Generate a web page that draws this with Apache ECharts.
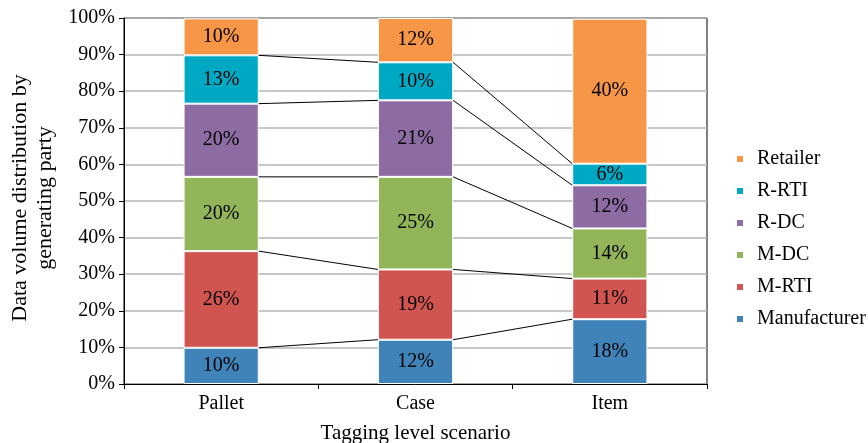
<!DOCTYPE html>
<html>
<head>
<meta charset="utf-8">
<script src="https://cdn.jsdelivr.net/npm/echarts@6/dist/echarts.min.js"></script>
<style>
  html, body { margin: 0; padding: 0; background: #fff; }
  #chart { width: 868px; height: 443px; }
</style>
</head>
<body>
<div id="chart"></div>
<script>
// Tagging level scenarios on the category axis
const categories = ['Pallet', 'Case', 'Item'];

// Share of data volume (%) per generating party, bottom to top of each stack
const manufacturer = [9.9, 12.1, 17.7];
const mRTI = [26.4, 19.2, 11.1];
const mDC = [20.3, 25.3, 13.7];
const rDC = [20.0, 20.9, 11.8];
const rRTI = [13.2, 10.4, 5.9];
const retailer = [10.1, 12.1, 39.6];

const seriesNames = ['Manufacturer', 'M-RTI', 'M-DC', 'R-DC', 'R-RTI', 'Retailer'];
const seriesValues = [manufacturer, mRTI, mDC, rDC, rRTI, retailer];
const seriesColors = ['#3f83b8', '#d05450', '#92b55a', '#8d6ca4', '#00a9c3', '#f79646'];

const yTicks = { min: 0, max: 100, step: 10 };

const FONT = '"Liberation Serif", "Times New Roman", serif';
const BAR_RATIO = 0.387;

// Cumulative heights of each boundary between stacked segments
const cumulative = [];
let running = categories.map(() => 0);
seriesValues.forEach(vals => {
  running = running.map((r, i) => r + vals[i]);
  cumulative.push(running.slice());
});

// Connector segments between neighbouring bars for every inner boundary
const connectorData = [];
for (let k = 0; k < seriesValues.length - 1; k++) {
  for (let i = 0; i < categories.length - 1; i++) {
    connectorData.push([i, cumulative[k][i], cumulative[k][i + 1]]);
  }
}

const barSeries = seriesNames.map((name, idx) => ({
  name: name,
  type: 'bar',
  stack: 'total',
  barWidth: (BAR_RATIO * 100) + '%',
  data: seriesValues[idx],
  itemStyle: { color: seriesColors[idx], borderColor: '#ffffff', borderWidth: 1 },
  label: {
    show: true,
    position: 'inside',
    formatter: p => Math.round(p.value) + '%',
    color: '#000',
    fontFamily: FONT,
    fontSize: 20
  },
  emphasis: { disabled: true }
}));

const connectorSeries = {
  type: 'custom',
  name: 'connectors',
  silent: true,
  z: 5,
  encode: { x: 0, y: 1 },
  data: connectorData,
  renderItem: function (params, api) {
    const i = api.value(0);
    const p0 = api.coord([i, api.value(1)]);
    const p1 = api.coord([i + 1, api.value(2)]);
    const half = api.size([1, 0])[0] * BAR_RATIO / 2;
    return {
      type: 'line',
      shape: { x1: p0[0] + half, y1: p0[1], x2: p1[0] - half, y2: p1[1] },
      style: { stroke: '#000', lineWidth: 1 }
    };
  }
};

const chart = echarts.init(document.getElementById('chart'), null, { renderer: 'canvas' });
chart.setOption({
  animation: false,
  backgroundColor: '#fff',
  grid: {
    left: 124, right: 161, top: 18, bottom: 59,
    outerBoundsMode: 'none',
    containLabel: false,
    show: true, borderColor: '#000', borderWidth: 1
  },
  legend: {
    orient: 'vertical',
    left: 730,
    top: 144,
    data: seriesNames.slice().reverse(),
    icon: 'rect',
    itemWidth: 8,
    itemHeight: 8,
    itemGap: 12,
    selectedMode: false,
    textStyle: { fontFamily: FONT, fontSize: 20, color: '#000', lineHeight: 20, padding: [0, 0, 0, 8] }
  },
  xAxis: {
    type: 'category',
    data: categories,
    name: 'Tagging level scenario',
    nameLocation: 'middle',
    nameGap: 39,
    nameTextStyle: { fontFamily: FONT, fontSize: 21, color: '#000' },
    axisLine: { lineStyle: { color: '#000', width: 1 } },
    axisTick: { show: true, length: 5, lineStyle: { color: '#000' } },
    axisLabel: { fontFamily: FONT, fontSize: 20, color: '#000', margin: 10 },
    splitLine: { show: false }
  },
  yAxis: {
    type: 'value',
    min: yTicks.min,
    max: yTicks.max,
    interval: yTicks.step,
    name: 'Data volume distribution by\ngenerating party',
    nameLocation: 'middle',
    nameRotate: 90,
    nameGap: 66,
    nameTextStyle: { fontFamily: FONT, fontSize: 22, color: '#000', lineHeight: 25, padding: [0, 0, 0, 6] },
    axisLine: { show: true, lineStyle: { color: '#000', width: 1 } },
    axisTick: { show: true, length: 5, lineStyle: { color: '#000' } },
    axisLabel: { formatter: '{value}%', fontFamily: FONT, fontSize: 20, color: '#000', margin: 9 },
    splitLine: { show: true, lineStyle: { color: '#b4b4b4', width: 1.5 } }
  },
  series: barSeries.concat([connectorSeries])
});
</script>
</body>
</html>
